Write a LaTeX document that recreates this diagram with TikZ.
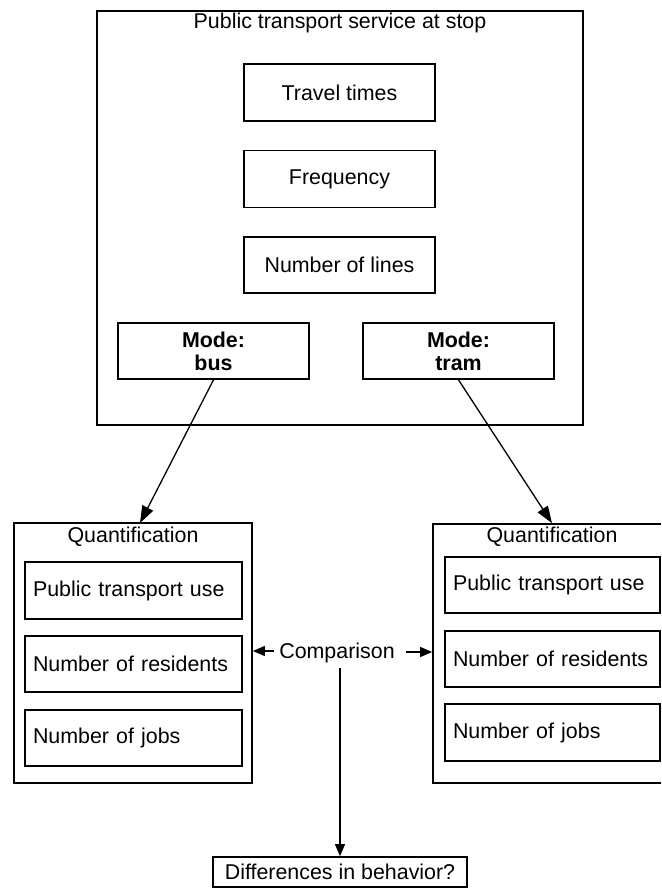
\documentclass[tikz,border=0pt]{standalone}
\usepackage{fontspec}
\setmainfont{Liberation Sans}
\usetikzlibrary{arrows.meta}
\tikzset{
  box/.style={draw, line width=1.7pt, inner sep=0pt, align=center},
  lbox/.style={draw, line width=1.7pt, inner sep=0pt, text width=#1, align=left},
  lbl/.style={inner sep=2pt},
  arr/.style={line width=1.3pt, -{Triangle[length=17pt,width=12pt]}},
  sarr/.style={line width=1.3pt, -{Triangle[length=12pt,width=10pt]}},
  every node/.style={font=\fontsize{21.4}{23}\selectfont}
}
\begin{document}
\begin{tikzpicture}[x=1pt,y=-1pt]
\useasboundingbox (0,0) rectangle (661,888);
\clip (0,0) rectangle (661,888);
\fill[white] (0,0) rectangle (661,888);
% top group
\node[box, minimum width=486pt, minimum height=414pt] (outer) at (340,218) {};
\node[lbl] (title) at (340,23) {Public transport service at stop};
\node[box, minimum width=191pt, minimum height=57pt] (travel) at (339.5,92.5) {Travel times};
\node[box, minimum width=191pt, minimum height=57pt] (freq) at (339.5,179) {Frequency};
\node[box, minimum width=191pt, minimum height=56pt] (lines) at (339.5,265) {Number of lines};
\node[box, minimum width=191pt, minimum height=56pt, font=\fontsize{21.4}{23}\selectfont\bfseries] (bus) at (213.5,351) {Mode:\\bus};
\node[box, minimum width=191pt, minimum height=56pt, font=\fontsize{21.4}{23}\selectfont\bfseries] (tram) at (458.5,351) {Mode:\\tram};
% left quantification
\node[box, minimum width=238pt, minimum height=260pt] (lq) at (133,653) {};
\node[lbl] (lqt) at (133,537) {Quantification};
\node[lbox=201pt, minimum height=57pt, inner xsep=8pt] (lpt) at (133.5,590.5) {Public transport use};
\node[lbox=201pt, minimum height=56pt, inner xsep=8pt] (lres) at (133.5,664) {Number of residents};
\node[lbox=201pt, minimum height=56pt, inner xsep=8pt] (ljob) at (133.5,738) {Number of jobs};
% right quantification
\node[box, minimum width=238pt, minimum height=259pt] (rq) at (552,653.5) {};
\node[lbl] (rqt) at (552,537) {Quantification};
\node[lbox=199pt, minimum height=56pt, inner xsep=8pt] (rpt) at (552.5,585) {Public transport use};
\node[lbox=199pt, minimum height=56pt, inner xsep=8pt] (rres) at (552.5,659) {Number of residents};
\node[lbox=199pt, minimum height=57pt, inner xsep=8pt] (rjob) at (552.5,732.5) {Number of jobs};
% comparison
\node[inner sep=5pt] (cmp) at (337,653) {Comparison};
\node[box, minimum width=254pt, minimum height=30pt] (diff) at (340,872) {Differences in behavior?};
% connectors
\coordinate (bt) at (140,523);
\draw[arr] (bus.south) -- (bt);
\draw[arr] (tram.south) -- (rq.north);
\draw[sarr] ([yshift=2pt]cmp.west) -- ([yshift=2pt]cmp.west -| lq.east);
\draw[sarr] ([xshift=6pt,yshift=1pt]cmp.east) -- ([yshift=1pt]cmp.east -| rq.west);
\draw[sarr] (cmp.south -| diff.north) -- (diff.north);
\end{tikzpicture}
\end{document}
